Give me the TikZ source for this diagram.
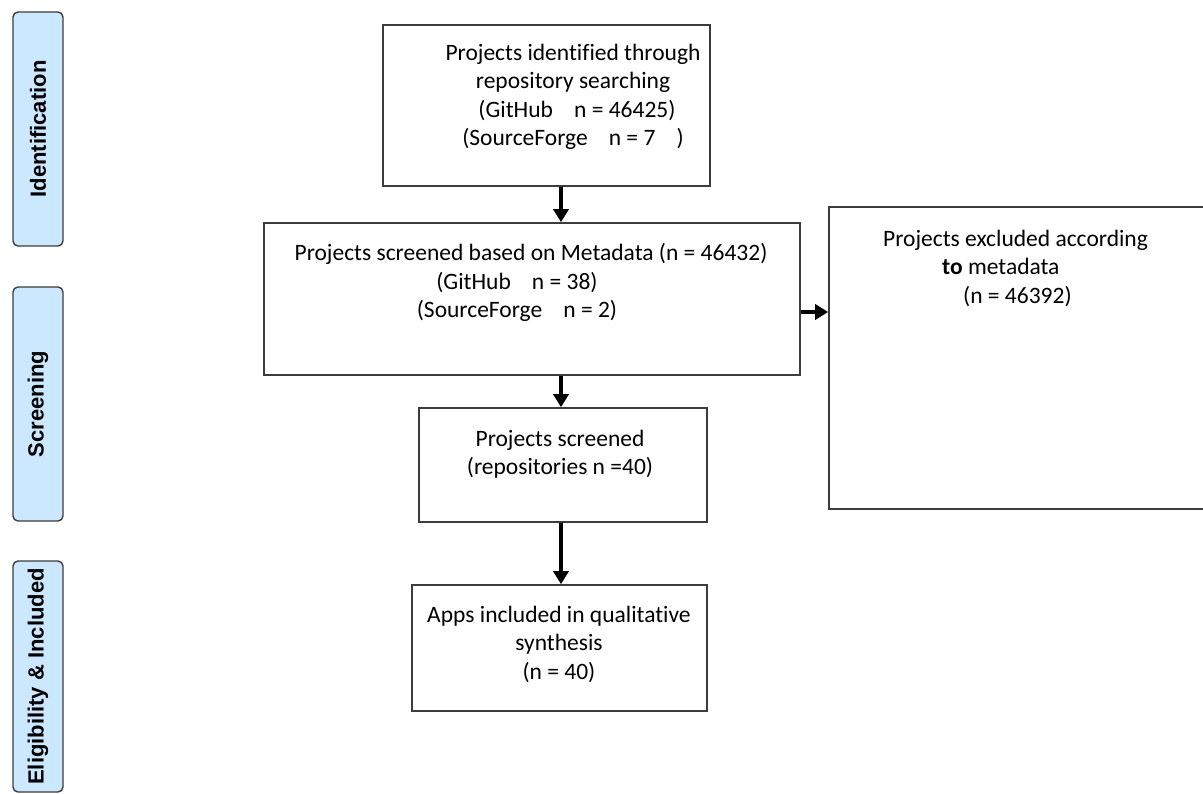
\documentclass[tikz,border=0pt]{standalone}
\usepackage{fontspec}
\setmainfont[Ligatures=NoCommon]{Carlito}
\newfontfamily\sidefont{Liberation Sans}
\usetikzlibrary{arrows.meta}
\definecolor{sidefill}{RGB}{204,232,255}
\definecolor{edgegray}{RGB}{60,60,60}
\newcommand{\padr}[1]{\hbox to #1{}}
\begin{document}
\begin{tikzpicture}[x=1pt,y=-1pt,
  box/.style={draw=edgegray,line width=1.6pt,rectangle,inner sep=0pt},
  side/.style={draw=edgegray,fill=sidefill,line width=1.4pt,rounded corners=5pt,inner sep=0pt},
  sidetxt/.style={rotate=90,font=\sidefont\bfseries\fontsize{22}{26}\selectfont,text=black},
  txt/.style={align=center,font=\fontsize{23.5}{28.5}\selectfont,text=black,inner sep=0pt},
  arr/.style={line width=4pt,-{Triangle[width=15pt,length=13pt]}}]
\useasboundingbox (0,0) rectangle (1203,794);
\clip (0,0) rectangle (1203,794);
% side bars
\node[side,minimum width=50pt,minimum height=234pt] (s1) at (38,129) {};
\node[side,minimum width=50pt,minimum height=234pt] (s2) at (38,404) {};
\node[side,minimum width=50pt,minimum height=231pt] (s3) at (38,676.5) {};
\node[sidetxt] (s1t) at (s1.center) {Identification};
\node[sidetxt] (s2t) at (s2.center) {Screening};
\node[sidetxt] (s3t) at (s3.center) {Eligibility \& Included};
% boxes
\node[box,minimum width=327pt,minimum height=161pt] (b1) at (546.5,105.5) {};
\node[box,minimum width=536pt,minimum height=152pt] (b2) at (532,299) {};
\node[box,minimum width=386pt,minimum height=302pt] (ex) at (1022,358) {};
\node[box,minimum width=288pt,minimum height=114pt] (b3) at (563,465) {};
\node[box,minimum width=295pt,minimum height=126pt] (b4) at (559.5,648) {};
% texts
\node[txt] (t1) at (573,97) {Projects identified through\\repository searching\\\padr{8pt}(GitHub\hspace{0.9em}n = 46425)\\(SourceForge\hspace{0.9em}n = 7\hspace{0.9em})};
\node[txt] (t2) at (531,282.5) {Projects screened based on Metadata (n = 46432)\\(GitHub\hspace{0.9em}n = 38)\padr{28pt}\\(SourceForge\hspace{0.9em}n = 2)\padr{28pt}};
\node[txt] (t3) at (560,454) {Projects screened\\(repositories n =40)};
\node[txt] (t4) at (559,644) {Apps included in qualitative\\synthesis\\(n = 40)};
\node[txt,align=left,anchor=west] (t5) at (883,268) {Projects excluded according\\\hspace*{59pt}\textbf{to} metadata\\\hspace*{80pt}(n = 46392)};
% arrows
\coordinate (col) at (561,0);
\coordinate (row) at (0,312);
\draw[arr] (b1.south -| col) -- (b2.north -| col);
\draw[arr] (b2.south -| col) -- (b3.north -| col);
\draw[arr] (b3.south -| col) -- (b4.north -| col);
\draw[arr] (b2.east |- row) -- (ex.west |- row);
\end{tikzpicture}
\end{document}
